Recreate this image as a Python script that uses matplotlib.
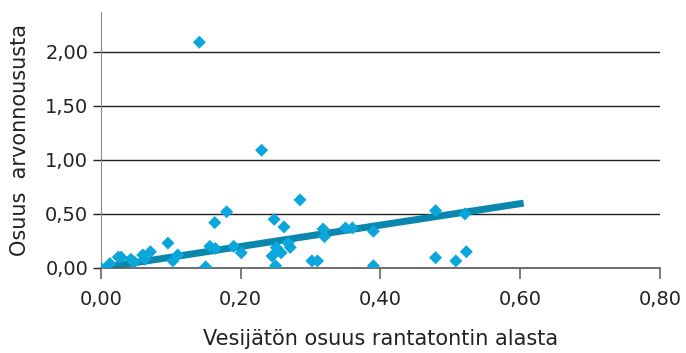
import matplotlib
matplotlib.use('Agg')
import matplotlib.pyplot as plt
import numpy as np

# share of waterless area (x) vs share of value increase (y)
x_vals = [0.000, 0.013, 0.025, 0.029, 0.043, 0.048, 0.060, 0.063, 0.071, 0.096,
          0.103, 0.110, 0.141, 0.150, 0.156, 0.164, 0.163, 0.180, 0.190, 0.201,
          0.230, 0.245, 0.248, 0.250, 0.251, 0.258, 0.262, 0.268, 0.271, 0.285,
          0.302, 0.310, 0.318, 0.320, 0.350, 0.360, 0.390, 0.390, 0.479, 0.479,
          0.508, 0.521, 0.523]
y_vals = [0.00, 0.04, 0.10, 0.10, 0.08, 0.055, 0.12, 0.08, 0.15, 0.23,
          0.065, 0.12, 2.09, 0.01, 0.20, 0.18, 0.42, 0.52, 0.20, 0.14,
          1.09, 0.11, 0.45, 0.02, 0.19, 0.14, 0.38, 0.23, 0.19, 0.63,
          0.065, 0.065, 0.36, 0.29, 0.37, 0.37, 0.34, 0.02, 0.53, 0.095,
          0.065, 0.50, 0.15]
trend_x = [0.0, 0.605]
trend_y = [0.0, 0.60]

x_ticks = [0.0, 0.2, 0.4, 0.6, 0.8]
y_ticks = [0.0, 0.5, 1.0, 1.5, 2.0]

plt.rcParams['font.family'] = 'DejaVu Sans'
fig = plt.figure(figsize=(6.86, 3.53), dpi=100)
ax = fig.add_axes([0.147, 0.241, 0.815, 0.725])

for yv in y_ticks[1:]:
	ax.axhline(yv, color='#222222', lw=1.0, zorder=1)

ax.plot(trend_x, trend_y, '-', color='#0a87ad', lw=5, solid_capstyle='butt', zorder=2)
ax.scatter(x_vals, y_vals, marker='D', s=44, color='#0aa6dc', edgecolors='none', zorder=3)

ax.set_xlim(0, 0.8)
ax.set_ylim(0, 2.37)
ax.set_xticks(x_ticks)
ax.set_yticks(y_ticks)
ax.set_xticklabels([('%.2f' % v).replace('.', ',') for v in x_ticks])
ax.set_yticklabels([('%.2f' % v).replace('.', ',') for v in y_ticks])

for s in ['top', 'right']:
	ax.spines[s].set_visible(False)
ax.spines['left'].set_color('#8a8a8a')
ax.spines['bottom'].set_color('#555555')
ax.spines['bottom'].set_linewidth(1.2)
ax.tick_params(axis='y', length=6, width=1, color='#222222', labelsize=14, labelcolor='#222222', pad=3)
ax.tick_params(axis='x', length=8, width=1.2, color='#666666', labelsize=14, labelcolor='#222222', pad=8)

ax.set_xlabel('Vesijätön osuus rantatontin alasta', fontsize=15, color='#222222', labelpad=14)
ax.set_ylabel('Osuus  arvonnoususta', fontsize=15, color='#222222', labelpad=11)

plt.savefig('out.png', dpi=100)
